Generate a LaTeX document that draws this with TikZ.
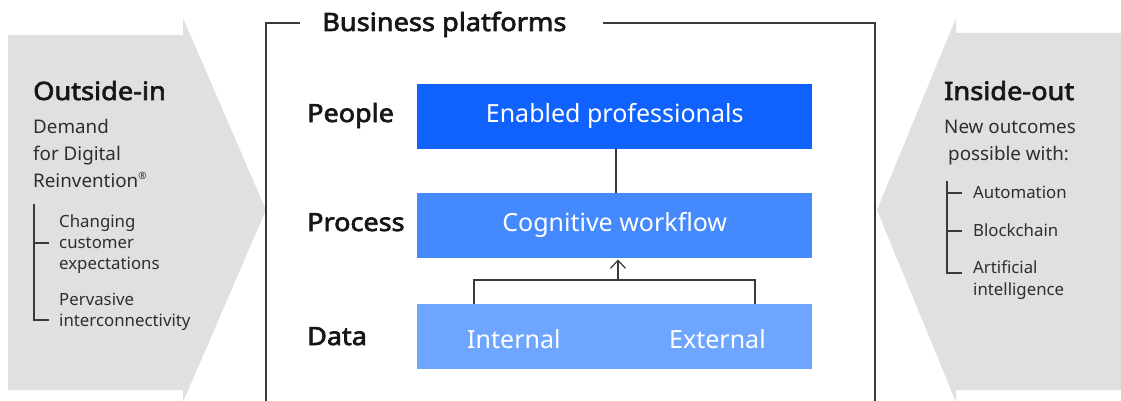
\documentclass[tikz,border=0pt]{standalone}
\usepackage{fontspec}
\setmainfont{Noto Sans}[AutoFakeBold=2.6]
\usetikzlibrary{arrows.meta}
\definecolor{blueA}{HTML}{0F62FE}
\definecolor{blueB}{HTML}{4589FF}
\definecolor{blueC}{HTML}{6EA6FF}
\definecolor{grayA}{HTML}{E0E0E0}
\definecolor{ink}{HTML}{161616}
\definecolor{bodyc}{HTML}{2E2E2E}
\definecolor{linec}{HTML}{3A3A3A}
\newcommand{\headfontsel}[1]{\fontsize{#1}{#1}\selectfont\bfseries\addfontfeature{FakeStretch=1.08}}
\begin{document}
\begin{tikzpicture}[x=1pt,y=-1pt,
  platebox/.style={minimum width=395pt, minimum height=65pt, inner sep=0pt, anchor=north west, text=white, font=\fontsize{25}{29}\selectfont, text height=18pt, text depth=7pt},
  inbox/.style={anchor=base west, inner sep=0pt, text=white, font=\fontsize{25}{29}\selectfont},
  head/.style={anchor=base west, inner sep=0pt, text=ink, font=\headfontsel{25.2}},
  rowlab/.style={anchor=base west, inner sep=0pt, text=ink, font=\headfontsel{25}},
  bodytxt/.style={anchor=base west, inner sep=0pt, text=bodyc, font=\fontsize{18.8}{22}\selectfont},
  subtxt/.style={anchor=base west, inner sep=0pt, text=bodyc, font=\fontsize{16.8}{20}\selectfont},
  rule/.style={draw=linec, line width=1.2pt},
  frame/.style={draw=linec, line width=1.2pt}
]
\useasboundingbox (0,0) rectangle (1121,401);
\fill[white] (0,0) rectangle (1121,401);

% big grey arrows
\fill[grayA] (8,35) -- (183,35) -- (183,18) -- (266,210) -- (183,402) -- (183,390) -- (8,390) -- cycle;
\fill[grayA] (1121,33) -- (956,33) -- (956,18) -- (877,210) -- (956,402) -- (956,390) -- (1121,390) -- cycle;

% frame
\coordinate (fl) at (266,401);
\coordinate (ftl) at (266,23);
\coordinate (ftg) at (300,23);
\coordinate (ftg2) at (603,23);
\coordinate (ftr) at (875,23);
\coordinate (fr) at (875,401);
\draw[frame] (ftg) -- (ftl) -- (fl);
\draw[frame] (ftg2) -- (ftr) -- (fr);
\node[head] (bp) at (322,31) {Business platforms};

% row labels
\node[rowlab] (people) at (307,122) {People};
\node[rowlab] (process) at (307,231) {Process};
\node[rowlab] (data) at (307,345) {Data};

% boxes
\node[platebox, fill=blueA] (ep) at (417,84) {Enabled professionals};
\node[platebox, fill=blueB] (cw) at (417,193) {Cognitive workflow};
\node[platebox, fill=blueC] (db) at (417,304) {};
\node[inbox] (int) at (467,348) {Internal};
\node[inbox] (ext) at (669,348) {External};

% connectors
\coordinate (epb) at (616,149);
\coordinate (cwt) at (616,193);
\draw[rule] (epb) -- (cwt);
\coordinate (dl) at (474,304);
\coordinate (dr) at (755,304);
\coordinate (jl) at (474,280);
\coordinate (jr) at (755,280);
\coordinate (jm) at (618,280);
\coordinate (cwb) at (618,259.5);
\draw[rule] (dl) -- (jl) -- (jr) -- (dr);
\draw[rule, -{Straight Barb[length=8pt,width=15pt]}] (jm) -- (cwb);

% left text
\node[head] (oi) at (33,100) {Outside-in};
\node[bodytxt] (l1) at (33,133) {Demand};
\node[bodytxt] (l2) at (33,160) {for Digital};
\node[bodytxt] (l3) at (33,187) {Reinvention\raisebox{0.42em}{\fontsize{10}{10}\selectfont\textregistered}};
\node[subtxt] (s1) at (59,227) {Changing};
\node[subtxt] (s2) at (59,248) {customer};
\node[subtxt] (s3) at (59,269) {expectations};
\node[subtxt] (s4) at (59,305) {Pervasive};
\node[subtxt] (s5) at (59,326) {interconnectivity};
\coordinate (lbt) at (34,204);
\coordinate (lbb) at (34,320);
\coordinate (lbm) at (34,243);
\draw[rule] (lbt) -- (lbb) -- ++(15,0);
\draw[rule] (lbm) -- ++(15,0);

% right text
\node[head] (io) at (944,100) {Inside-out};
\node[bodytxt] (r1) at (944,133) {New outcomes};
\node[bodytxt] (r2) at (948,160) {possible with:};
\node[subtxt] (a1) at (973,198) {Automation};
\node[subtxt] (a2) at (973,236) {Blockchain};
\node[subtxt] (a3) at (973,273) {Artificial};
\node[subtxt] (a4) at (973,295) {intelligence};
\coordinate (rbt) at (947,181);
\coordinate (rbb) at (947,273);
\coordinate (rt1) at (947,193);
\coordinate (rt2) at (947,231);
\draw[rule] (rbt) -- (rbb) -- ++(15,0);
\draw[rule] (rt1) -- ++(15,0);
\draw[rule] (rt2) -- ++(15,0);
\end{tikzpicture}
\end{document}
